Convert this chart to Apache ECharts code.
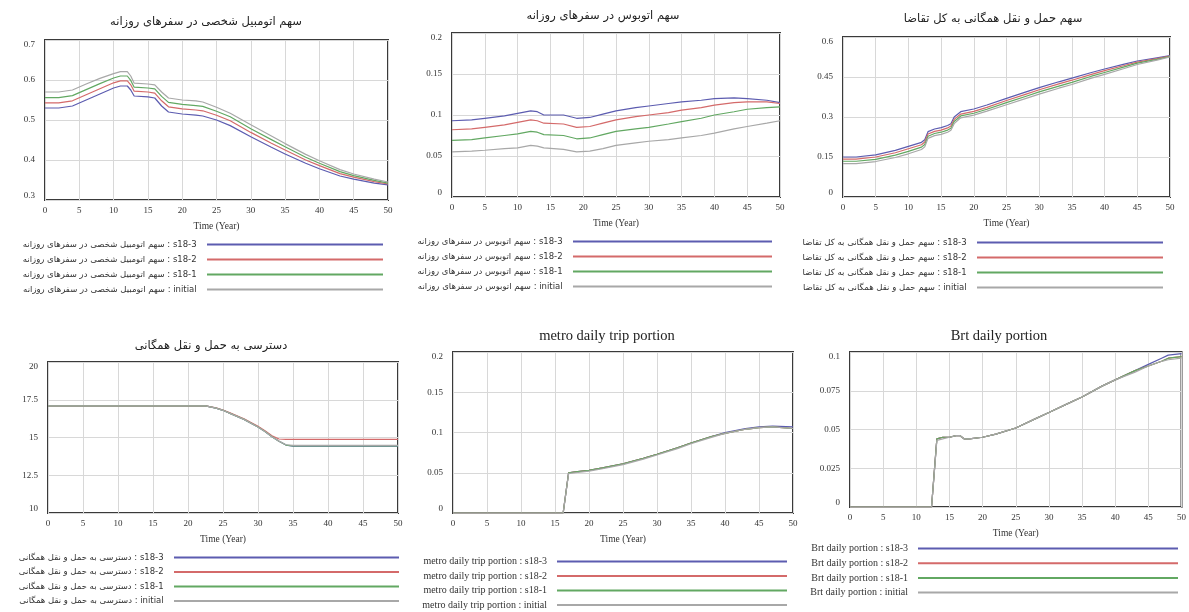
<!DOCTYPE html>
<html>
<head>
<meta charset="utf-8">
<script src="https://cdn.jsdelivr.net/npm/echarts@6/dist/echarts.min.js"></script>
<style>html,body{margin:0;padding:0;background:#fff}#c{width:1189px;height:612px}</style>
</head>
<body>
<div id="c"></div>
<script>
// ---------- DATA ----------
const titles = [
  'سهم اتومبیل شخصی در سفرهای روزانه',
  'سهم اتوبوس در سفرهای روزانه',
  'سهم حمل و نقل همگانی به کل تقاضا',
  'دسترسی به حمل و نقل همگانی',
  'metro daily trip portion',
  'Brt daily portion'
];
const scenarios = ['s18-3', 's18-2', 's18-1', 'initial'];
const xTicks = [0, 5, 10, 15, 20, 25, 30, 35, 40, 45, 50];

// panel 1: private car share
const t1 = [0,2,4,6,8,10,11,12,12.5,13,15,16,17,18,20,22,23,25,27,30,33,35,38,40,43,45,48,50];
const carS3 = [0.53,0.53,0.535,0.55,0.565,0.58,0.585,0.585,0.575,0.56,0.558,0.555,0.535,0.52,0.515,0.512,0.51,0.5,0.486,0.458,0.432,0.415,0.392,0.378,0.36,0.352,0.342,0.338];
const carS2 = [0.543,0.543,0.548,0.563,0.578,0.593,0.598,0.598,0.588,0.572,0.57,0.567,0.548,0.533,0.528,0.525,0.523,0.512,0.498,0.469,0.442,0.425,0.4,0.386,0.366,0.357,0.346,0.34];
const carS1 = [0.556,0.556,0.561,0.576,0.591,0.605,0.61,0.61,0.599,0.582,0.58,0.578,0.559,0.544,0.539,0.536,0.534,0.522,0.508,0.478,0.451,0.433,0.407,0.392,0.371,0.361,0.349,0.342];
const carInit = [0.57,0.57,0.575,0.59,0.604,0.616,0.621,0.621,0.61,0.592,0.59,0.588,0.57,0.555,0.55,0.548,0.545,0.532,0.517,0.488,0.46,0.441,0.414,0.398,0.376,0.365,0.352,0.345];

// panel 2: bus share
const t2 = [0,3,5,8,10,12,13,14,17,19,21,23,25,28,30,33,35,38,40,43,45,48,50];
const busS3 = [0.093,0.094,0.096,0.099,0.102,0.105,0.104,0.1,0.1,0.096,0.097,0.101,0.105,0.109,0.111,0.114,0.116,0.118,0.12,0.121,0.12,0.118,0.115];
const busS2 = [0.082,0.083,0.085,0.088,0.091,0.094,0.093,0.09,0.089,0.085,0.086,0.09,0.094,0.098,0.1,0.103,0.106,0.109,0.112,0.115,0.116,0.116,0.114];
const busS1 = [0.069,0.07,0.072,0.075,0.077,0.08,0.079,0.076,0.075,0.071,0.072,0.076,0.08,0.083,0.085,0.089,0.092,0.096,0.1,0.104,0.107,0.109,0.11];
const busInit = [0.055,0.056,0.057,0.059,0.06,0.063,0.062,0.06,0.058,0.055,0.056,0.059,0.063,0.066,0.068,0.07,0.072,0.075,0.078,0.083,0.086,0.09,0.093];

// panel 3: public transport share of demand
const t3 = [0,2,5,8,10,12,12.5,13,14,15,16,16.5,17,18,20,22,25,28,30,33,35,38,40,43,45,48,50];
const ptS3 = [0.15,0.15,0.158,0.175,0.19,0.205,0.215,0.245,0.255,0.26,0.268,0.275,0.3,0.32,0.33,0.345,0.37,0.394,0.41,0.432,0.446,0.467,0.48,0.498,0.51,0.522,0.53];
const ptS2 = [0.142,0.142,0.15,0.166,0.181,0.196,0.206,0.236,0.246,0.251,0.259,0.266,0.291,0.311,0.321,0.336,0.362,0.386,0.402,0.424,0.438,0.46,0.474,0.493,0.506,0.519,0.528];
const ptS1 = [0.134,0.134,0.141,0.157,0.171,0.187,0.197,0.228,0.238,0.243,0.251,0.258,0.283,0.304,0.314,0.329,0.354,0.378,0.394,0.416,0.43,0.453,0.467,0.488,0.502,0.516,0.527];
const ptInit = [0.125,0.125,0.133,0.148,0.162,0.178,0.188,0.22,0.23,0.235,0.243,0.25,0.275,0.297,0.307,0.322,0.346,0.37,0.386,0.408,0.422,0.446,0.46,0.482,0.497,0.513,0.525];

// panel 4: access to public transport
const t4 = [0,10,20,22.5,24,25,26,28,30,31,32,33,34,35,40,45,50];
const accS3 = [17.1,17.1,17.1,17.1,16.95,16.8,16.6,16.2,15.7,15.4,15.05,14.75,14.5,14.42,14.42,14.42,14.42];
const accS2 = [17.1,17.1,17.1,17.1,16.96,16.82,16.63,16.24,15.75,15.45,15.12,14.9,14.88,14.88,14.88,14.88,14.88];
const accS1 = [17.1,17.1,17.1,17.1,16.95,16.8,16.6,16.2,15.7,15.4,15.05,14.75,14.5,14.45,14.45,14.45,14.45];
const accInit = [17.1,17.1,17.1,17.1,16.95,16.8,16.6,16.2,15.7,15.4,15.05,14.76,14.52,14.48,14.48,14.48,14.48];

// panel 5: metro
const t5 = [0,10,16.2,17,18,20,22,25,28,30,33,35,38,40,43,45,47,50];
const metS3 = [0,0,0,0.05,0.051,0.053,0.056,0.061,0.068,0.073,0.081,0.087,0.095,0.1,0.105,0.107,0.108,0.107];
const metS2 = [0,0,0,0.05,0.051,0.053,0.056,0.061,0.068,0.073,0.081,0.087,0.095,0.099,0.104,0.106,0.107,0.105];
const metS1 = [0,0,0,0.05,0.051,0.053,0.056,0.061,0.068,0.073,0.081,0.087,0.095,0.099,0.104,0.106,0.107,0.105];
const metInit = [0,0,0,0.049,0.05,0.052,0.055,0.06,0.067,0.072,0.08,0.086,0.094,0.099,0.104,0.106,0.107,0.105];

// panel 6: BRT
const t6 = [0,10,12.3,13.1,14,15,16,16.6,17.2,18,20,22,25,28,30,33,35,38,40,43,45,47,48,50];
const brtS3 = [0,0,0,0.044,0.045,0.045,0.046,0.046,0.044,0.044,0.045,0.047,0.051,0.057,0.061,0.067,0.071,0.078,0.082,0.088,0.092,0.096,0.098,0.099];
const brtS2 = [0,0,0,0.044,0.045,0.045,0.046,0.046,0.044,0.044,0.045,0.047,0.051,0.057,0.061,0.067,0.071,0.078,0.082,0.088,0.091,0.094,0.096,0.097];
const brtS1 = [0,0,0,0.044,0.045,0.045,0.046,0.046,0.044,0.044,0.045,0.047,0.051,0.057,0.061,0.067,0.071,0.078,0.082,0.088,0.091,0.094,0.096,0.097];
const brtInit = [0,0,0,0.043,0.044,0.045,0.046,0.046,0.044,0.044,0.045,0.047,0.051,0.057,0.061,0.067,0.071,0.078,0.082,0.087,0.091,0.094,0.095,0.096];

// y axis ranges
const yMin = [0.3, 0, 0, 10, 0, 0];
const yMax = [0.7, 0.2, 0.6, 20, 0.2, 0.1];
const yStep = [0.1, 0.05, 0.15, 2.5, 0.05, 0.025];

// ---------- LAYOUT ----------
const panels = [
  {times: t1, vals: [carS3, carS2, carS1, carInit], grid: [45, 40, 343, 160], title: [206, 16], legend: {right: 806, top: 239, w: 176, gap: 4}, fa: true},
  {times: t2, vals: [busS3, busS2, busS1, busInit], grid: [452, 33, 328, 164], title: [603, 10], legend: {right: 417, top: 236, w: 199, gap: 4}, fa: true},
  {times: t3, vals: [ptS3, ptS2, ptS1, ptInit], grid: [843, 37, 327, 160], title: [993, 13], legend: {right: 26, top: 237, w: 186, gap: 4}, fa: true},
  {times: t4, vals: [accS3, accS2, accS1, accInit], grid: [48, 362, 350, 151], title: [211, 340], legend: {right: 790, top: 552, w: 225, gap: 3.5}, fa: true},
  {times: t5, vals: [metS3, metS2, metS1, metInit], grid: [453, 352, 340, 161], title: [607, 329], legend: {right: 402, top: 556, w: 230, gap: 3.5}, fa: false},
  {times: t6, vals: [brtS3, brtS2, brtS1, brtInit], grid: [850, 352, 335, 155], title: [999, 329], legend: {right: 11, top: 543, w: 260, gap: 3.7}, fa: false}
];
const colors = ['#5c5cb0', '#d46a6a', '#62a862', '#a8a8a8'];
const FONT = "'Liberation Serif', 'DejaVu Sans', serif";
const FA_FONT = "'DejaVu Sans', 'Liberation Serif', sans-serif";

const option = {
  animation: false,
  backgroundColor: '#fff',
  title: [], grid: [], xAxis: [], yAxis: [], legend: [], series: []
};

panels.forEach((p, i) => {
  option.title.push({
    text: titles[i], left: p.title[0], top: p.title[1], textAlign: 'center', padding: 0,
    textStyle: {fontFamily: p.fa ? FA_FONT : FONT, fontSize: p.fa ? 11.5 : 14.5, fontWeight: 'normal', color: '#222'}
  });
  option.grid.push({
    left: p.grid[0], top: p.grid[1], width: p.grid[2], height: p.grid[3],
    show: true, borderColor: '#3a3a3a', borderWidth: 2, backgroundColor: '#fff'
  });
  option.xAxis.push({
    type: 'value', gridIndex: i, min: xTicks[0], max: xTicks[xTicks.length - 1], interval: 5,
    name: 'Time (Year)', nameLocation: 'middle', nameGap: 21,
    nameTextStyle: {fontFamily: FONT, fontSize: 9.5, color: '#333'},
    axisLine: {show: false}, axisTick: {show: false},
    axisLabel: {fontFamily: FONT, fontSize: 9, color: '#333', margin: 6},
    splitLine: {show: true, lineStyle: {color: '#d8d8d8', width: 1}}
  });
  option.yAxis.push({
    type: 'value', gridIndex: i, min: yMin[i], max: yMax[i], interval: yStep[i],
    axisLine: {show: false}, axisTick: {show: false},
    axisLabel: {fontFamily: FONT, fontSize: 9, color: '#333', margin: 10,
      verticalAlignMinLabel: 'bottom', verticalAlignMaxLabel: 'top',
      formatter: v => String(+v.toFixed(4))},
    splitLine: {show: true, lineStyle: {color: '#d8d8d8', width: 1}}
  });
  const names = scenarios.map(s => titles[i] + ' : ' + s);
  option.legend.push({
    orient: 'vertical', right: p.legend.right, top: p.legend.top, align: 'right',
    itemWidth: p.legend.w, itemHeight: 2, itemGap: p.legend.gap, icon: 'rect', padding: 0,
    data: names,
    formatter: n => n + '  ',
    textStyle: {fontFamily: p.fa ? FA_FONT : FONT, fontSize: p.fa ? 8.5 : 10, color: '#333', lineHeight: 11}
  });
  p.vals.forEach((arr, k) => {
    option.series.push({
      type: 'line', name: names[k], xAxisIndex: i, yAxisIndex: i,
      data: p.times.map((t, j) => [t, arr[j]]),
      showSymbol: false, symbol: 'none', smooth: false,
      lineStyle: {color: colors[k], width: 1.2}, itemStyle: {color: colors[k]},
      z: 2 + k
    });
  });
});

const chart = echarts.init(document.getElementById('c'), null, {renderer: 'canvas'});
chart.setOption(option);
</script>
</body>
</html>
